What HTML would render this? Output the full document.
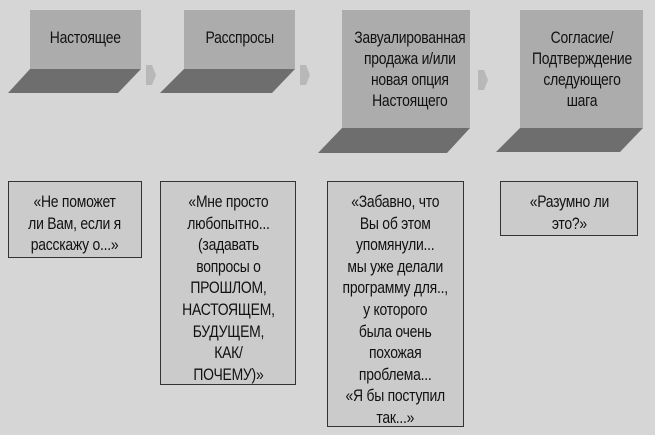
<!DOCTYPE html>
<html><head><meta charset="utf-8"><style>
html,body{margin:0;padding:0}
body{width:655px;height:435px;background:#d6d6d6;position:relative;overflow:hidden;font-family:"Liberation Sans",sans-serif;color:#111}
.t{position:absolute;background:#acacac;text-align:center;font-size:17px;line-height:21px;box-sizing:border-box}
.b{position:absolute;background:#cbcbcb;border:1.5px solid #333;box-sizing:border-box;text-align:center;font-size:17px;line-height:21.6px;padding-top:9px}
.s{display:inline-block;transform:scaleX(0.82);transform-origin:center;white-space:nowrap;letter-spacing:-0.3px}
svg{position:absolute;left:0;top:0}
</style></head><body>
<svg width="655" height="435">
<polygon points="30,69 141,69 118,93 8,93" fill="#6e6e6e"/>
<polygon points="184,69 295,69 272,93 160,93" fill="#6e6e6e"/>
<polygon points="342,128 470,128 447,153 318,153" fill="#6e6e6e"/>
<polygon points="520,128 643,128 620,152 496,152" fill="#6e6e6e"/>
<polygon points="146,65 152,65 156,75 152,85 146,85" fill="#b8b8b8"/>
<polygon points="300,65 306,65 310,75 306,85 300,85" fill="#b8b8b8"/>
<polygon points="478,70 484,70 488,80 484,90 478,90" fill="#b8b8b8"/>
</svg>
<div class="t" style="left:30px;top:10px;width:111px;height:59px;padding-top:17px"><span class="s">Настоящее</span></div>
<div class="t" style="left:184px;top:10px;width:111px;height:59px;padding-top:17px"><span class="s">Расспросы</span></div>
<div class="t" style="left:342px;top:10px;width:128px;height:118px;padding-top:17px"><span class="s">Завуалированная<br>продажа и/или<br>новая опция<br>Настоящего</span></div>
<div class="t" style="left:520px;top:10px;width:123px;height:118px;padding-top:17px"><span class="s">Согласие/<br>Подтверждение<br>следующего<br>шага</span></div>
<div class="b" style="left:8px;top:181px;width:134px;height:77px"><span class="s">«Не поможет<br>ли Вам, если я<br>расскажу о...»</span></div>
<div class="b" style="left:160px;top:181px;width:136px;height:204px"><span class="s">«Мне просто<br>любопытно...<br>(задавать<br>вопросы о<br>ПРОШЛОМ,<br>НАСТОЯЩЕМ,<br>БУДУЩЕМ,<br>КАК/<br>ПОЧЕМУ)»</span></div>
<div class="b" style="left:327px;top:181px;width:137px;height:246px"><span class="s">«Забавно, что<br>Вы об этом<br>упомянули...<br>мы уже делали<br>программу для..,<br>у которого<br>была очень<br>похожая<br>проблема...<br>«Я бы поступил<br>так...»</span></div>
<div class="b" style="left:500px;top:181px;width:138px;height:55px"><span class="s">«Разумно ли<br>это?»</span></div>
</body></html>
